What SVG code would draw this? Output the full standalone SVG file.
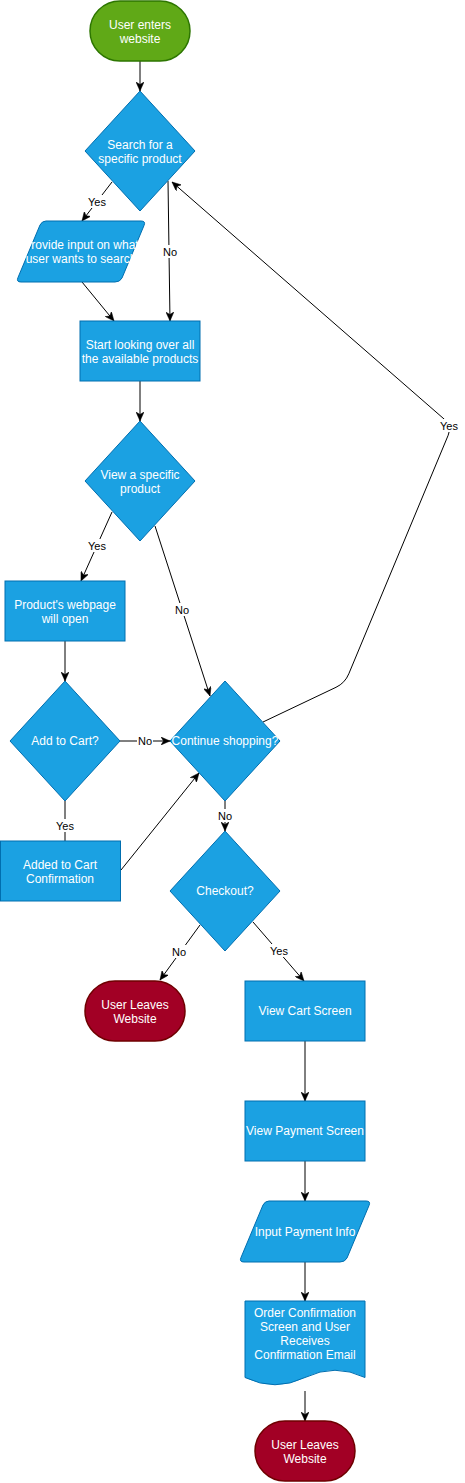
<svg xmlns="http://www.w3.org/2000/svg" width="465" height="1483" viewBox="0 0 465 1483">
<style>
.blue{fill:#1ba1e2;stroke:#006eaf;stroke-width:1}
.green{fill:#60a917;stroke:#2d7600;stroke-width:1.5}
.red{fill:#a20025;stroke:#6f0000;stroke-width:1.5}
.t{font-family:"Liberation Sans",Arial,sans-serif;font-size:12px;fill:#ffffff;text-anchor:middle}
.e{fill:none;stroke:#000000;stroke-width:1}
.a{marker-end:url(#arr)}
.lb{fill:#ffffff}
.l{font-family:"Liberation Sans",Arial,sans-serif;font-size:11px;fill:#000000;text-anchor:middle}
</style>
<defs>
<marker id="arr" markerUnits="userSpaceOnUse" markerWidth="10" markerHeight="8" viewBox="0 0 10 8" refX="9" refY="4" orient="auto">
<path d="M0,0 L9,4 L0,8 L2.5,4 Z" fill="#000000" stroke="#000000" stroke-width="0.5"/>
</marker>
</defs>
<rect width="465" height="1483" fill="#ffffff"/>
<g id="connectors">
<line class="e a" x1="140" y1="61" x2="140" y2="91"/>
<line class="e a" x1="112" y1="182" x2="82" y2="221"/>
<line class="e a" x1="168" y1="181" x2="170" y2="321"/>
<line class="e a" x1="82" y1="282" x2="114" y2="321"/>
<line class="e a" x1="140" y1="381" x2="140" y2="421"/>
<line class="e a" x1="112" y1="512" x2="81" y2="581"/>
<line class="e a" x1="155" y1="526" x2="210" y2="696"/>
<line class="e a" x1="65" y1="641" x2="65" y2="681"/>
<line class="e a" x1="120" y1="741" x2="170" y2="741"/>
<line class="e" x1="65" y1="801" x2="65" y2="841"/>
<line class="e a" x1="121" y1="870" x2="199" y2="773"/>
<path class="e a" d="M263,722 L336,687.3 Q345,683 348.8,673.8 L448.2,435.2 Q452,426 444.5,419.4 L172,182"/>
<line class="e a" x1="225" y1="801" x2="225" y2="831"/>
<line class="e a" x1="200" y1="925" x2="160" y2="980"/>
<line class="e a" x1="253" y1="922" x2="304" y2="981"/>
<line class="e a" x1="305" y1="1041" x2="305" y2="1101"/>
<line class="e a" x1="305" y1="1161" x2="305" y2="1201"/>
<line class="e a" x1="305" y1="1262" x2="305" y2="1301"/>
<line class="e a" x1="305" y1="1391" x2="305" y2="1421"/>
<rect class="lb" x="87" y="195" width="20" height="13"/><text class="l" x="97" y="206">Yes</text>
<rect class="lb" x="162" y="245" width="16" height="13"/><text class="l" x="170" y="256">No</text>
<rect class="lb" x="87" y="539" width="20" height="13"/><text class="l" x="97" y="550">Yes</text>
<rect class="lb" x="174" y="603" width="16" height="13"/><text class="l" x="182" y="614">No</text>
<rect class="lb" x="137" y="734" width="16" height="13"/><text class="l" x="145" y="745">No</text>
<rect class="lb" x="55" y="819" width="20" height="13"/><text class="l" x="65" y="830">Yes</text>
<rect class="lb" x="439" y="419" width="21" height="13"/><text class="l" x="449" y="430">Yes</text>
<rect class="lb" x="217" y="809" width="16" height="13"/><text class="l" x="225" y="820">No</text>
<rect class="lb" x="171" y="945" width="16" height="13"/><text class="l" x="179" y="956">No</text>
<rect class="lb" x="269" y="944" width="20" height="13"/><text class="l" x="279" y="955">Yes</text>
</g>
<g id="n-start">
<rect class="green" x="90" y="1" width="100" height="60" rx="30" ry="30"/>
<text class="t" x="140" y="28.5">User enters</text><text class="t" x="140" y="43">website</text>
</g>
<g id="n-search">
<polygon class="blue" points="140,91 195,151 140,211 85,151"/>
<text class="t" x="140" y="148.5">Search for a</text><text class="t" x="140" y="163">specific product</text>
</g>
<g id="n-input">
<path class="blue" d="M46,221 L141,221 Q146,221 144,225.5 L122,278 Q120,282 115,282 L21,282 Q16,282 18,277.5 L40,225 Q42,221 46,221 Z"/>
<text class="t" x="81" y="248.5">Provide input on what</text><text class="t" x="81" y="263">user wants to search</text>
</g>
<g id="n-browse">
<rect class="blue" x="80" y="321" width="120" height="60"/>
<text class="t" x="140" y="348.5">Start looking over all</text><text class="t" x="140" y="363">the available products</text>
</g>
<g id="n-view">
<polygon class="blue" points="140,421 195,481 140,541 85,481"/>
<text class="t" x="140" y="478.5">View a specific</text><text class="t" x="140" y="493">product</text>
</g>
<g id="n-product">
<rect class="blue" x="5" y="581" width="120" height="60"/>
<text class="t" x="65" y="608.5">Product's webpage</text><text class="t" x="65" y="623">will open</text>
</g>
<g id="n-addcart">
<polygon class="blue" points="65,681 120,741 65,801 10,741"/>
<text class="t" x="65" y="745.3">Add to Cart?</text>
</g>
<g id="n-added">
<rect class="blue" x="0.5" y="841" width="120" height="60"/>
<text class="t" x="60" y="868.5">Added to Cart</text><text class="t" x="60" y="883">Confirmation</text>
</g>
<g id="n-continue">
<polygon class="blue" points="225,681 280,741 225,801 170,741"/>
<text class="t" x="225" y="745.3">Continue shopping?</text>
</g>
<g id="n-checkout">
<polygon class="blue" points="225,831 280,891 225,951 170,891"/>
<text class="t" x="225" y="895.3">Checkout?</text>
</g>
<g id="n-leave1">
<rect class="red" x="85" y="981" width="100" height="60" rx="30" ry="30"/>
<text class="t" x="135" y="1008.5">User Leaves</text><text class="t" x="135" y="1023">Website</text>
</g>
<g id="n-cart">
<rect class="blue" x="245" y="981" width="120" height="60"/>
<text class="t" x="305" y="1015.3">View Cart Screen</text>
</g>
<g id="n-payment">
<rect class="blue" x="245" y="1101" width="120" height="60"/>
<text class="t" x="305" y="1135.3">View Payment Screen</text>
</g>
<g id="n-payinfo">
<path class="blue" d="M269,1201 L366,1201 Q371,1201 369,1205.5 L347,1258 Q345,1262 340,1262 L244,1262 Q239,1262 241,1257.5 L263,1205 Q265,1201 269,1201 Z"/>
<text class="t" x="305" y="1235.5">Input Payment Info</text>
</g>
<g id="n-confirm">
<path class="blue" d="M245,1301 L365,1301 L365,1377.5 Q335,1363 305,1377.5 Q275,1392 245,1377.5 Z"/>
<text class="t" x="305" y="1316.5">Order Confirmation</text>
<text class="t" x="305" y="1330.7">Screen and User</text>
<text class="t" x="305" y="1344.9">Receives</text>
<text class="t" x="305" y="1359.1">Confirmation Email</text>
</g>
<g id="n-leave2">
<rect class="red" x="255" y="1421" width="100" height="60" rx="30" ry="30"/>
<text class="t" x="305" y="1448.5">User Leaves</text><text class="t" x="305" y="1463">Website</text>
</g>
</svg>
